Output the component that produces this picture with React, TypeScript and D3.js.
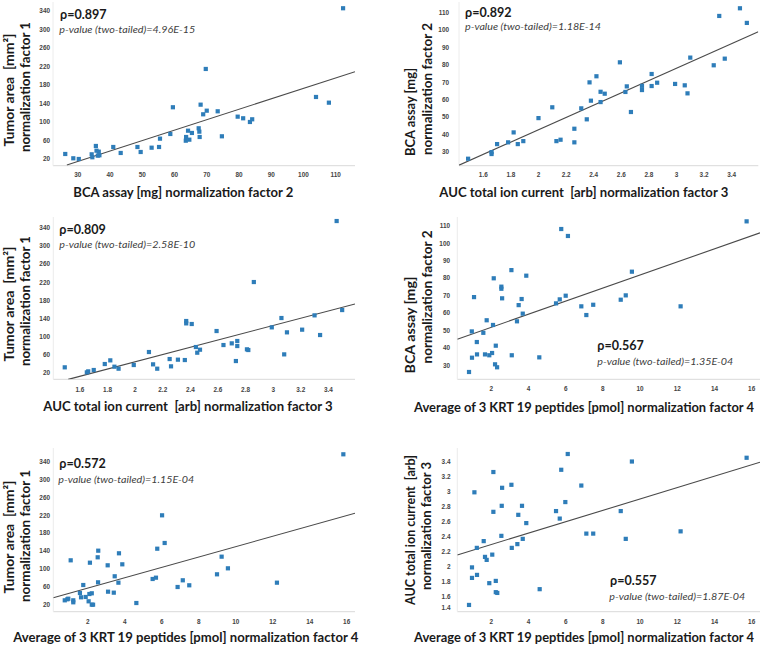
import React from "react";
import * as d3 from "d3";

// ---------- data ----------
// Panel 1: BCA assay (x) vs Tumor area (y)
const p1X = [26.1, 28.6, 30.3, 34.3, 34.5, 35.6, 35.8, 36.5, 36.7, 36.2, 41.0, 43.3, 48.5, 49.5, 52.9, 55.2, 55.5, 58.7, 59.5, 63.5, 63.6, 64.2, 64.6, 65.4, 67.5, 67.7, 67.8, 68.1, 68.9, 69.7, 70.0, 73.4, 74.7, 79.6, 81.3, 83.4, 84.1, 103.9, 107.9, 112.3];
const p1Y = [30.8, 21.5, 20.0, 30.1, 23.7, 48.1, 37.9, 35.8, 28.0, 27.2, 45.9, 33.0, 45.9, 35.1, 44.4, 45.9, 63.9, 74.0, 131.7, 59.5, 67.5, 81.1, 61.7, 76.2, 86.3, 79.0, 67.5, 137.3, 116.5, 214.4, 124.3, 123.0, 69.0, 111.4, 107.9, 99.9, 105.7, 153.9, 141.6, 345.5];
// Panel 2: AUC (x) vs BCA (y)
const p2X = [1.49, 1.66, 1.66, 1.70, 1.78, 1.82, 1.85, 1.89, 2.00, 2.10, 2.13, 2.16, 2.26, 2.26, 2.31, 2.35, 2.37, 2.38, 2.42, 2.45, 2.45, 2.48, 2.59, 2.64, 2.63, 2.67, 2.75, 2.75, 2.82, 2.82, 2.86, 2.99, 3.06, 3.08, 3.10, 3.27, 3.31, 3.35, 3.46, 3.51];
const p2Y = [26.0, 28.7, 29.8, 34.4, 35.4, 41.1, 34.4, 36.1, 49.3, 55.5, 36.1, 36.9, 43.2, 35.4, 54.9, 48.6, 69.8, 59.3, 73.3, 58.5, 64.4, 63.3, 81.3, 67.5, 64.3, 52.8, 65.4, 67.8, 74.6, 67.7, 69.6, 68.9, 68.1, 63.5, 84.0, 79.6, 107.9, 83.4, 112.3, 103.9];
// Panel 3: AUC (x) vs Tumor area (y)
const p3X = [1.49, 1.65, 1.66, 1.70, 1.78, 1.82, 1.85, 1.88, 1.99, 2.10, 2.13, 2.16, 2.25, 2.26, 2.31, 2.36, 2.37, 2.37, 2.41, 2.44, 2.45, 2.47, 2.59, 2.64, 2.70, 2.73, 2.74, 2.74, 2.81, 2.82, 2.86, 2.99, 3.06, 3.08, 3.10, 3.21, 3.30, 3.34, 3.46, 3.50];
const p3Y = [31.8, 20.7, 22.9, 25.9, 39.1, 47.2, 33.2, 28.8, 36.9, 65.6, 38.4, 28.8, 50.1, 34.0, 48.7, 47.9, 134.0, 128.8, 127.4, 76.6, 64.1, 70.7, 111.9, 81.0, 84.7, 45.7, 89.9, 78.8, 71.5, 70.0, 220.0, 120.0, 140.6, 60.4, 109.0, 114.9, 146.5, 103.1, 354.6, 158.2];
// Panel 4: KRT19 (x) vs BCA (y)
const p4X = [0.80, 0.96, 0.95, 1.07, 1.22, 1.23, 1.57, 1.66, 1.75, 1.89, 2.04, 2.13, 2.09, 2.20, 2.24, 2.31, 2.54, 2.54, 2.58, 3.08, 3.10, 3.38, 3.47, 3.63, 3.69, 3.88, 4.58, 5.76, 5.48, 5.68, 6.00, 6.12, 6.84, 7.11, 7.48, 8.96, 9.23, 9.56, 12.18, 15.73];
const p4Y = [26.0, 34.2, 49.3, 69.0, 43.2, 36.1, 48.5, 36.1, 55.7, 35.6, 36.9, 79.8, 53.0, 30.4, 41.1, 28.7, 75.0, 73.8, 68.3, 84.5, 35.6, 55.1, 64.4, 67.9, 59.5, 81.3, 34.4, 108.1, 65.4, 67.7, 69.8, 104.1, 63.7, 58.7, 64.6, 67.5, 70.0, 83.6, 63.7, 112.5];
// Panel 5: KRT19 (x) vs Tumor area (y)
const p5X = [0.76, 0.90, 0.95, 1.22, 1.22, 1.08, 1.58, 1.64, 1.76, 1.89, 2.05, 2.09, 2.22, 2.22, 2.29, 2.12, 2.54, 2.57, 2.56, 3.08, 3.10, 3.41, 3.46, 3.66, 3.69, 3.87, 4.63, 5.51, 5.69, 5.76, 6.16, 6.86, 7.14, 7.49, 6.02, 8.99, 9.24, 9.58, 12.23, 15.82];
const p5Y = [30.4, 32.7, 34.0, 30.4, 26.0, 119.3, 46.7, 37.1, 64.4, 37.8, 28.2, 44.4, 46.0, 20.7, 20.7, 114.0, 126.0, 140.7, 70.4, 108.2, 49.6, 47.4, 83.8, 69.6, 134.9, 110.4, 24.4, 77.8, 80.7, 145.1, 157.8, 60.0, 74.9, 63.8, 219.3, 88.2, 127.4, 101.5, 69.6, 354.9];
// Panel 6: KRT19 (x) vs AUC (y)
const p6X = [0.80, 0.96, 0.96, 1.09, 1.22, 1.23, 1.59, 1.66, 1.75, 1.89, 2.05, 2.11, 2.11, 2.24, 2.24, 2.32, 2.54, 2.56, 2.58, 3.08, 3.10, 3.40, 3.45, 3.65, 3.69, 3.88, 4.60, 5.48, 5.68, 5.76, 5.98, 6.11, 6.84, 7.11, 7.48, 8.96, 9.23, 9.56, 12.18, 15.73];
const p6Y = [1.49, 1.85, 1.99, 2.99, 2.25, 1.89, 2.34, 2.13, 2.09, 1.78, 2.16, 3.26, 2.73, 1.81, 1.66, 1.65, 2.41, 2.81, 3.05, 3.09, 2.25, 2.30, 2.69, 2.81, 2.37, 2.58, 1.70, 2.74, 2.64, 3.29, 2.86, 3.50, 3.08, 2.44, 2.44, 2.74, 2.37, 3.40, 2.47, 3.45];

// trend lines: [[x0, y0], [x1, y1]] in data units
const trend1 = [[26.6, 7], [116, 208.5]];
const trend2 = [[1.424, 22.3], [3.593, 98.9]];
const trend3 = [[1.515, 5.3], [3.593, 171.5]];
const trend4 = [[0.17, 44.8], [16.45, 105.9]];
const trend5 = [[0.14, 36.2], [16.45, 223.8]];
const trend6 = [[0.17, 2.156], [16.45, 3.39]];

// tick labels
const tumorTicks = [20, 60, 100, 140, 180, 220, 260, 300, 340];
const bcaTicksX = [30, 40, 50, 60, 70, 80, 90, 100, 110];
const bcaTicksY = [30, 40, 50, 60, 70, 80, 90, 100, 110];
const aucTicksX = [1.6, 1.8, 2, 2.2, 2.4, 2.6, 2.8, 3, 3.2, 3.4];
const aucTicksY = [1.4, 1.6, 1.8, 2, 2.2, 2.4, 2.6, 2.8, 3, 3.2, 3.4];
const krtTicks = [2, 4, 6, 8, 10, 12, 14, 16];

const rhoLabels = ["ρ=0.897", "ρ=0.892", "ρ=0.809", "ρ=0.567", "ρ=0.572", "ρ=0.557"];
const pLabels = [
  "p-value (two-tailed)=4.96E-15",
  "p-value (two-tailed)=1.18E-14",
  "p-value (two-tailed)=2.58E-10",
  "p-value (two-tailed)=1.35E-04",
  "p-value (two-tailed)=1.15E-04",
  "p-value (two-tailed)=1.87E-04",
];

const LBL_TUMOR = ["Tumor area  [mm²]", "normalization factor 1"];
const LBL_BCA = ["BCA assay [mg]", "normalization factor 2"];
const LBL_AUC = ["AUC total ion current  [arb]", "normalization factor 3"];
const XL_BCA = "BCA assay [mg] normalization factor 2";
const XL_AUC = "AUC total ion current  [arb] normalization factor 3";
const XL_KRT = "Average of 3 KRT 19 peptides [pmol] normalization factor 4";

const TITLE_FONT = "Lato, 'Open Sans', sans-serif";
const TICK_FONT = "'Liberation Sans', Arial, sans-serif";
const DOT = "#2e7db9";
const TITLE_SIZE = 12.2;
const TITLE_STRETCH = 1.15;

type Cfg = {
  xs: number[]; ys: number[];
  xDomain: [number, number]; xRange: [number, number];
  yDomain: [number, number]; yRange: [number, number];
  xTicks: number[]; yTicks: number[];
  trend: number[][];
  xTickY: number; yTickX: number;
  rho: string; p: string;
  rhoPos: [number, number]; pPos: [number, number];
  xLabel: string; xLabelPos: [number, number, number];
  yLabels: string[]; yLabelPos: [number, number, number][];
};

const panels: Cfg[] = [
  {
    xs: p1X, ys: p1Y, xDomain: [22.3, 116], xRange: [53, 355], yDomain: [5.5, 359], yRange: [165.7, 2],
    xTicks: bcaTicksX, yTicks: tumorTicks, trend: trend1, xTickY: 174.5, yTickX: 50,
    rho: rhoLabels[0], p: pLabels[0], rhoPos: [60, 18.5], pPos: [59.3, 32.5],
    xLabel: XL_BCA, xLabelPos: [73.3, 196.5, 220],
    yLabels: LBL_TUMOR, yLabelPos: [[8.3, 90, 113], [25, 87, 130]],
  },
  {
    xs: p2X, ys: p2Y, xDomain: [1.424, 3.593], xRange: [459, 758.3], yDomain: [22, 115.9], yRange: [165.7, 2],
    xTicks: aucTicksX, yTicks: bcaTicksY, trend: trend2, xTickY: 174.5, yTickX: 449,
    rho: rhoLabels[1], p: pLabels[1], rhoPos: [465, 17], pPos: [465, 30],
    xLabel: XL_AUC, xLabelPos: [439.3, 196.5, 289],
    yLabels: LBL_BCA, yLabelPos: [[410, 112, 88], [426.7, 89, 132]],
  },
  {
    xs: p3X, ys: p3Y, xDomain: [1.407, 3.593], xRange: [53.3, 355], yDomain: [5.4, 363.5], yRange: [379.3, 217],
    xTicks: aucTicksX, yTicks: tumorTicks, trend: trend3, xTickY: 389.5, yTickX: 50,
    rho: rhoLabels[2], p: pLabels[2], rhoPos: [59.3, 233.5], pPos: [59.3, 247.5],
    xLabel: XL_AUC, xLabelPos: [43.3, 410.5, 289.4],
    yLabels: LBL_TUMOR, yLabelPos: [[8.3, 304, 115], [25, 301, 130]],
  },
  {
    xs: p4X, ys: p4Y, xDomain: [0.17, 16.45], xRange: [457.3, 760], yDomain: [21.8, 115], yRange: [379.3, 217],
    xTicks: krtTicks, yTicks: bcaTicksY, trend: trend4, xTickY: 388, yTickX: 450,
    rho: rhoLabels[3], p: pLabels[3], rhoPos: [597.3, 350], pPos: [597.3, 365],
    xLabel: XL_KRT, xLabelPos: [414, 411.5, 340],
    yLabels: LBL_BCA, yLabelPos: [[410, 325, 97], [426.7, 297, 133]],
  },
  {
    xs: p5X, ys: p5Y, xDomain: [0.14, 16.45], xRange: [53.3, 355], yDomain: [5.1, 368.9], yRange: [611.7, 448],
    xTicks: krtTicks, yTicks: tumorTicks, trend: trend5, xTickY: 621, yTickX: 50,
    rho: rhoLabels[4], p: pLabels[4], rhoPos: [59.3, 468], pPos: [58.3, 482.5],
    xLabel: XL_KRT, xLabelPos: [13.3, 641.5, 345],
    yLabels: LBL_TUMOR, yLabelPos: [[8.3, 537, 113], [25, 536, 132]],
  },
  {
    xs: p6X, ys: p6Y, xDomain: [0.17, 16.45], xRange: [457.3, 760], yDomain: [1.4, 3.58], yRange: [611.7, 448],
    xTicks: krtTicks, yTicks: aucTicksY, trend: trend6, xTickY: 621, yTickX: 450.5,
    rho: rhoLabels[5], p: pLabels[5], rhoPos: [610, 585], pPos: [609.3, 600],
    xLabel: XL_KRT, xLabelPos: [414, 641.5, 340],
    yLabels: LBL_AUC, yLabelPos: [[409.3, 530, 150], [426, 526, 128]],
  },
];

function Panel({ c, idx }: { c: Cfg; idx: number }) {
  const x = d3.scaleLinear().domain(c.xDomain).range(c.xRange);
  const y = d3.scaleLinear().domain(c.yDomain).range(c.yRange);
  const line = d3.line<number[]>().x((d) => x(d[0])).y((d) => y(d[1]));
  const clipId = `clip${idx}`;
  const pts = c.xs.map((v, i) => [v, c.ys[i]]);
  const s = 4.2;
  const pre = { whiteSpace: "pre" as const };
  return (
    <g>
      <defs>
        <clipPath id={clipId}>
          <rect x={c.xRange[0]} y={c.yRange[1]} width={c.xRange[1] - c.xRange[0]} height={c.yRange[0] - c.yRange[1]} />
        </clipPath>
      </defs>
      {/* axes */}
      <line x1={c.xRange[0]} x2={c.xRange[1]} y1={c.yRange[0]} y2={c.yRange[0]} stroke="#d9d9d9" strokeWidth={1} />
      <line x1={c.xRange[0]} x2={c.xRange[0]} y1={c.yRange[0]} y2={c.yRange[1]} stroke="#ececec" strokeWidth={1} />
      {c.yTicks.map((t) => {
        let ty = y(t);
        if (Math.abs(ty - c.yRange[0]) < 3) ty -= 4;
        return (
          <text key={"y" + t} x={c.yTickX} y={ty} textAnchor="end" dominantBaseline="central"
            fontFamily={TICK_FONT} fontWeight="bold" fontSize={6.4} fill="#444">{String(t)}</text>
        );
      })}
      {c.xTicks.map((t) => (
        <text key={"x" + t} x={x(t)} y={c.xTickY} textAnchor="middle" dominantBaseline="central"
          fontFamily={TICK_FONT} fontWeight="bold" fontSize={6.4} fill="#444">{String(t)}</text>
      ))}
      {/* trend line */}
      <path d={line(c.trend) || ""} stroke="#4a4a4a" strokeWidth={1.1} fill="none" clipPath={`url(#${clipId})`} />
      {/* points */}
      {pts.map((p, i) => (
        <rect key={i} x={x(p[0]) - s / 2} y={y(p[1]) - s / 2} width={s} height={s} fill={DOT} />
      ))}
      {/* annotations */}
      <text x={c.rhoPos[0]} y={c.rhoPos[1]} fontFamily={TITLE_FONT} fontWeight="bold" fontSize={13.5}
        fill="#1a1a1a" textLength={46.5} lengthAdjust="spacingAndGlyphs">{c.rho}</text>
      <text x={c.pPos[0]} y={c.pPos[1]} fontFamily={TITLE_FONT} fontStyle="italic" fontSize={9.8}
        fill="#404040" textLength={136} lengthAdjust="spacingAndGlyphs">{c.p}</text>
      <text transform={`translate(${c.xLabelPos[0]},${c.xLabelPos[1]}) scale(1,${TITLE_STRETCH})`}
        fontFamily={TITLE_FONT} fontWeight="bold" fontSize={TITLE_SIZE}
        fill="#1a1a1a" textLength={c.xLabelPos[2]} lengthAdjust="spacingAndGlyphs" style={pre}>{c.xLabel}</text>
      {c.yLabels.map((lbl, i) => {
        const [lx, ly, len] = c.yLabelPos[i];
        return (
          <text key={"yl" + i} transform={`translate(${lx},${ly}) rotate(-90) scale(1,${TITLE_STRETCH})`} textAnchor="middle"
            dominantBaseline="central" fontFamily={TITLE_FONT} fontWeight="bold" fontSize={TITLE_SIZE}
            fill="#1a1a1a" textLength={len} lengthAdjust="spacingAndGlyphs" style={pre}>{lbl}</text>
        );
      })}
    </g>
  );
}

export default function App() {
  return (
    <svg width={760} height={645} viewBox="0 0 760 645"
      style={{ position: "absolute", left: 0, top: 0, background: "#fff" }}>
      <rect x={0} y={0} width={760} height={645} fill="#fff" />
      {panels.map((c, i) => (
        <Panel key={i} c={c} idx={i} />
      ))}
    </svg>
  );
}
